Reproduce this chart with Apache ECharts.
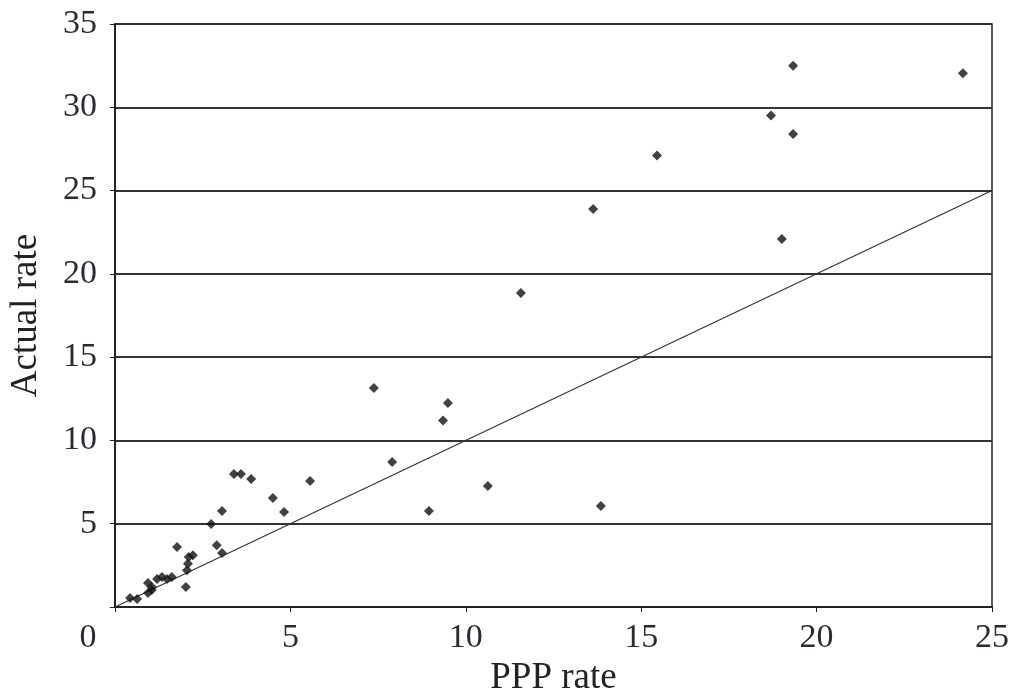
<!DOCTYPE html>
<html>
<head>
<meta charset="utf-8">
<script src="https://cdn.jsdelivr.net/npm/echarts@6/dist/echarts.min.js"></script>
<style>
    html, body { margin: 0; padding: 0; background: #fff; }
    #chart { width: 1011px; height: 693px; }
</style>
</head>
<body>
<div id="chart"></div>
<script>
const varFont = 'Liberation Serif';

// PPP rate (x) and actual rate (y)
const pppRate = [
    24.17, 19.33, 18.7, 19.33, 15.45, 13.63, 19.01, 11.57, 7.38, 9.49,
    9.35, 7.9, 10.63, 8.95, 13.85, 3.39, 3.59, 3.88, 5.56, 4.5,
    4.82, 3.05, 2.74, 2.9, 3.05, 2.22, 2.1, 2.08, 2.05, 2.02,
    1.77, 1.62, 1.48, 1.34, 1.2, 1.05, 1.05, 0.94, 0.94, 0.63, 0.43
];
const actualRate = [
    32.05, 32.5, 29.5, 28.4, 27.1, 23.9, 22.1, 18.85, 13.15, 12.25,
    11.2, 8.7, 7.26, 5.76, 6.06, 7.98, 7.98, 7.68, 7.56, 6.54,
    5.7, 5.76, 4.98, 3.7, 3.24, 3.1, 3.0, 2.6, 2.2, 1.2,
    3.6, 1.8, 1.68, 1.8, 1.68, 1.2, 1.02, 1.44, 0.84, 0.48, 0.54
];
const equalLine = [[0, 0], [25, 25]];
const xTicks = [0, 5, 10, 15, 20, 25];
const yTicks = [5, 10, 15, 20, 25, 30, 35];

function createChart(elementId, optionChart) {
    var myChart = echarts.init(document.getElementById(`${elementId}`));
    myChart.setOption(optionChart);
};

//-----------------------------------------------------------------------------
let points = pppRate.map((x, i) => [x, actualRate[i]]);

var option = {
    animation: false,
    textStyle: {
        fontFamily: varFont,
    },
    grid: {
        left: 115,
        right: 19,
        top: 24,
        bottom: 86,
        containLabel: false,
        outerBoundsMode: 'none',
        show: true,
        borderColor: '#222',
        borderWidth: 1.5,
    },
    xAxis: {
        type: 'value',
        min: 0,
        max: 25,
        interval: 5,
        name: 'PPP rate',
        nameLocation: 'middle',
        nameGap: 52,
        nameTextStyle: { fontSize: 37, color: '#222', fontFamily: varFont },
        axisLine: { show: true, lineStyle: { color: '#222', width: 2 } },
        axisTick: { show: true, length: 5, lineStyle: { color: '#222' } },
        splitLine: { show: false },
        axisLabel: {
            fontSize: 34,
            color: '#2a2a35',
            margin: 14,
            customValues: xTicks,
            formatter: (v) => v === 0 ? '{z|0}' : String(v),
            rich: {
                z: { fontSize: 34, color: '#2a2a35', fontFamily: varFont, padding: [0, 54, 0, 0] }
            }
        },
    },
    yAxis: {
        type: 'value',
        min: 0,
        max: 35,
        interval: 5,
        name: 'Actual rate',
        nameLocation: 'middle',
        nameGap: 70,
        nameTextStyle: { fontSize: 37, color: '#222', fontFamily: varFont },
        axisLine: { show: true, lineStyle: { color: '#222', width: 2 } },
        axisTick: { show: true, length: 5, lineStyle: { color: '#222' } },
        splitLine: { show: true, lineStyle: { color: '#333', width: 2 } },
        axisLabel: {
            fontSize: 34,
            color: '#2a2a35',
            margin: 18,
            customValues: yTicks,
        },
    },
    series: [
        {
            name: 'Equal',
            type: 'line',
            data: equalLine,
            symbol: 'none',
            lineStyle: { color: '#333', width: 1.2 },
            z: 1,
        },
        {
            name: 'Countries',
            type: 'scatter',
            data: points,
            symbol: 'diamond',
            symbolSize: 10,
            itemStyle: { color: '#111' },
            z: 3,
        },
    ],
};

createChart('chart', option);
</script>
</body>
</html>
